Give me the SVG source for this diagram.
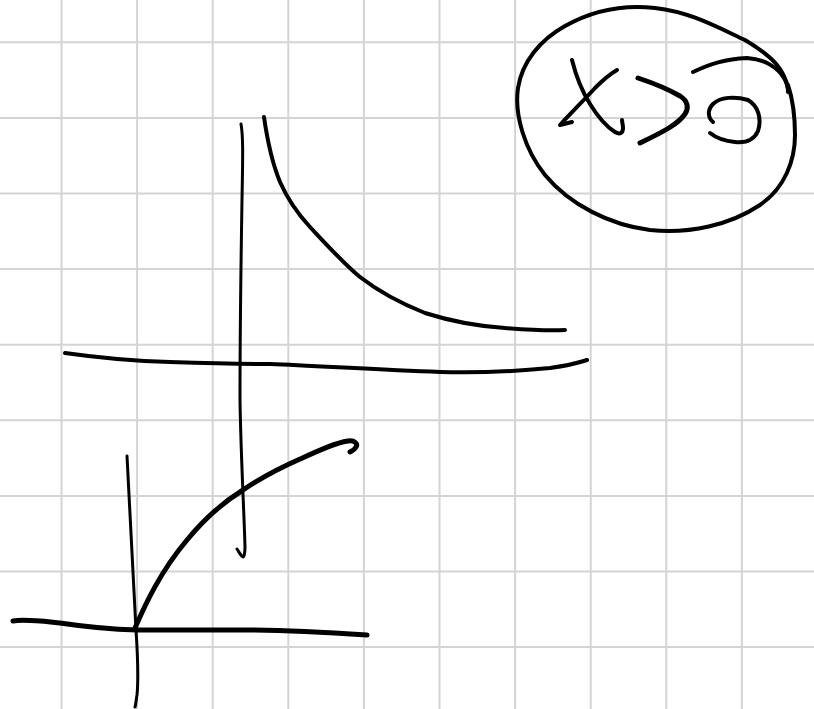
<svg xmlns="http://www.w3.org/2000/svg" width="814" height="709" viewBox="0 0 814 709">
<style>
.grid line{stroke:#d4d4d4;stroke-width:2}
.ink{fill:none;stroke:#000;stroke-linecap:round;stroke-linejoin:round}
.thin{stroke-width:3}
.mid{stroke-width:4}
.thick{stroke-width:5}
</style>
<rect width="814" height="709" fill="#fff"/>
<g class="grid" id="grid">
<line x1="61.5" y1="0" x2="61.5" y2="709"/>
<line x1="137.1" y1="0" x2="137.1" y2="709"/>
<line x1="212.7" y1="0" x2="212.7" y2="709"/>
<line x1="288.3" y1="0" x2="288.3" y2="709"/>
<line x1="363.9" y1="0" x2="363.9" y2="709"/>
<line x1="439.5" y1="0" x2="439.5" y2="709"/>
<line x1="515.1" y1="0" x2="515.1" y2="709"/>
<line x1="590.7" y1="0" x2="590.7" y2="709"/>
<line x1="666.3" y1="0" x2="666.3" y2="709"/>
<line x1="741.9" y1="0" x2="741.9" y2="709"/>
<line x1="0" y1="42.3" x2="814" y2="42.3"/>
<line x1="0" y1="117.9" x2="814" y2="117.9"/>
<line x1="0" y1="193.5" x2="814" y2="193.5"/>
<line x1="0" y1="269.1" x2="814" y2="269.1"/>
<line x1="0" y1="344.7" x2="814" y2="344.7"/>
<line x1="0" y1="420.3" x2="814" y2="420.3"/>
<line x1="0" y1="495.9" x2="814" y2="495.9"/>
<line x1="0" y1="571.5" x2="814" y2="571.5"/>
<line x1="0" y1="647.1" x2="814" y2="647.1"/>
</g>
<g id="graph-hyperbola">
<path class="ink thin" d="M241,124 C243,135 243,150 242,200 C241,260 240,330 240,400 C241,460 244,510 245,547 C245,553 244,557 243,557 C241,556 239,552 237,549"/>
<path class="ink mid" d="M264,117 C268,145 273,165 280,182 C288,200 297,213 310,227 C325,243 345,265 360,277 C378,291 400,303 425,313 C450,321 475,326 505,328 C530,330 550,331 565,330"/>
<path class="ink mid" d="M65,353 C100,358 130,361 170,362 C200,363 230,364 270,364 C320,366 380,370 440,372 C480,373 520,371 550,368 C565,366 578,363 587,360"/>
</g>
<g id="graph-sqrt">
<path class="ink thin" d="M127,456 C130,520 133,580 136,630 C138,660 138,685 137,695 C136,700 136,704 135,707"/>
<path class="ink thick" d="M13,621 C25,619 40,621 60,623 C80,626 100,629 137,630 C170,630 200,630 240,630 C280,630 320,632 367,635"/>
<path class="ink thick" d="M135,628 C145,605 160,572 187,540 C205,518 222,503 243,490 C262,477 282,467 300,459 C320,450 335,443 348,441 C355,440 358,444 356,447 C355,449 352,451 350,452"/>
</g>
<g id="condition">
<path class="ink mid" d="M788,88 C784,70 775,58 745,40 C715,26 690,12 655,8 C620,4 590,12 565,26 C540,40 522,62 518,88 C514,115 525,150 545,175 C570,205 610,225 650,230 C690,234 730,225 760,205 C785,188 795,160 795,135 C795,115 793,100 788,85"/>
<path class="ink mid" d="M693,72 C710,64 725,59 747,58 C765,59 778,68 784,78 C787,83 788,88 788,92"/>
<path class="ink mid" d="M713,122 C708,118 707,110 713,104 C720,97 735,96 748,100 C758,106 762,118 758,131 C754,140 745,143 735,142 C725,141 715,137 710,133"/>
<path class="ink mid" d="M572,60 C575,72 580,88 590,104 C598,117 607,127 615,132 C620,135 623,133 623,128 C623,125 622,122 622,120"/>
<path class="ink mid" d="M617,70 C610,74 602,81 595,88 C585,99 572,112 560,125 C564,124 568,123 572,122"/>
<path class="ink thick" d="M638,78 C650,82 668,89 680,96 C688,101 689,108 685,114 C678,124 665,131 640,143"/>
</g>
</svg>
